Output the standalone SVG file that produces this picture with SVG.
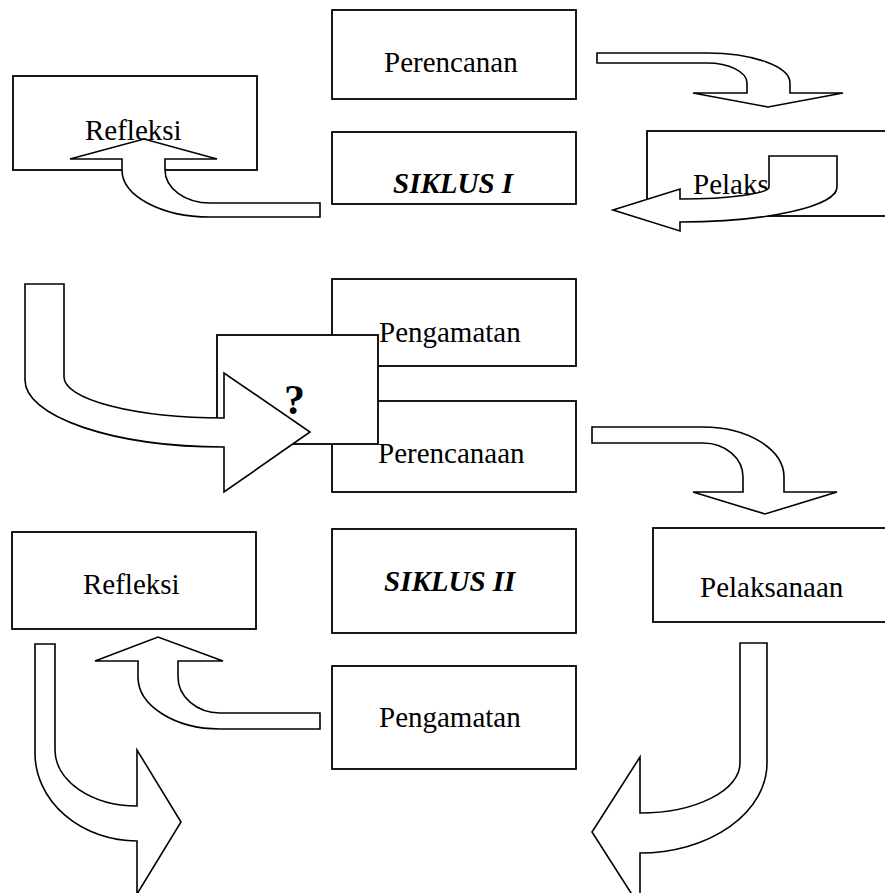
<svg xmlns="http://www.w3.org/2000/svg" width="885" height="893" viewBox="0 0 885 893">
<style>
.box{fill:#fff;stroke:#000;stroke-width:1.8}
.lbl{font-family:"Liberation Serif","Times New Roman",serif;font-size:29px;fill:#000}
.cyc{font-family:"Liberation Serif","Times New Roman",serif;font-size:29px;font-weight:bold;font-style:italic;fill:#000}
.q{font-family:"Liberation Serif","Times New Roman",serif;font-size:42px;font-weight:bold;fill:#000}
.arr{fill:#fff;stroke:#000;stroke-width:1.6;stroke-linejoin:miter}
</style>
<rect width="885" height="893" fill="#fff"/>
<g id="perencanan1"><rect class="box" x="332" y="10" width="244" height="89"/><text class="lbl" x="384" y="72">Perencanan</text></g>
<g id="siklus1"><rect class="box" x="332" y="132" width="244" height="72"/><text class="cyc" x="393" y="193">SIKLUS I</text></g>
<g id="refleksi1"><rect class="box" x="13" y="76" width="244" height="94"/><text class="lbl" x="85" y="140">Refleksi</text></g>
<g id="pelaksanaan1"><rect class="box" x="647" y="131" width="260" height="85"/><text class="lbl" x="693" y="194">Pelaksanaan</text></g>
<g id="pengamatan1"><rect class="box" x="332" y="279" width="244" height="87"/><text class="lbl" x="379" y="342">Pengamatan</text></g>
<g id="perencanaan2"><rect class="box" x="332" y="401" width="244" height="91"/><text class="lbl" x="378" y="463">Perencanaan</text></g>
<g id="question"><rect class="box" x="217" y="335" width="161" height="109"/><text class="q" x="284" y="414">?</text></g>
<g id="refleksi2"><rect class="box" x="12" y="532" width="244" height="97"/><text class="lbl" x="83" y="594">Refleksi</text></g>
<g id="siklus2"><rect class="box" x="332" y="529" width="244" height="104"/><text class="cyc" x="384" y="591">SIKLUS II</text></g>
<g id="pelaksanaan2"><rect class="box" x="653" y="528" width="260" height="94"/><text class="lbl" x="700" y="597">Pelaksanaan</text></g>
<g id="pengamatan2"><rect class="box" x="332" y="666" width="244" height="103"/><text class="lbl" x="379" y="727">Pengamatan</text></g>
<g id="connectors">
<path class="arr" d="M597,53 H707 A83,30 0 0 1 790,83 V93 H843 L768,107 L693,93 H747 V83 A40,20 0 0 0 707,63 H597 Z"/>
<path class="arr" d="M769,156 H837 V187 A157,35 0 0 1 680,222 V231 L613,210 L680,189 V199 A89,12 0 0 0 769,187 Z"/>
<path class="arr" d="M320,203 H210 A45,33 0 0 1 165,170 V159 H217 L144,139 L70,159 H122 V170 A88,47 0 0 0 210,217 H320 Z"/>
<path class="arr" d="M25,284 H64 V377 A160,41 0 0 0 224,418 V373 L310,432 L224,492 V447 A199,67 0 0 1 25,380 Z"/>
<path class="arr" d="M592,427 H703 A81,50 0 0 1 784,477 V492 H837 L765,514 L693,492 H743 V477 A40,34 0 0 0 703,443 H592 Z"/>
<path class="arr" d="M320,713 H220 A42,36 0 0 1 178,677 V661 H223 L158,637 L95,661 H138 V677 A82,52 0 0 0 220,729 H320 Z"/>
<path class="arr" d="M35,644 H55 V750 A82,56 0 0 0 137,806 V750 L181,822 L137,894 V841 A102,88 0 0 1 35,753 Z"/>
<path class="arr" d="M740,643 H767 V763 A127,90 0 0 1 640,853 V907 L592,832 L640,757 V813 A100,50 0 0 0 740,763 Z"/>
</g>
</svg>
